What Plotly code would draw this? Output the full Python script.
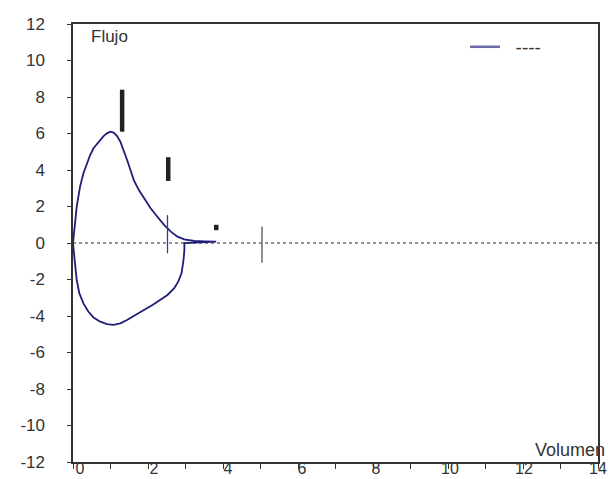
import plotly.graph_objects as go

# Flow-volume loop (Volumen, Flujo)
exp_vol = [0, 0.027, 0.054, 0.099, 0.143, 0.188, 0.278, 0.367, 0.457, 0.547, 0.681, 0.815, 0.905,
           0.995, 1.084, 1.174, 1.263, 1.353, 1.443, 1.532, 1.622, 1.756, 1.891, 2.07, 2.249, 2.428,
           2.608, 2.787, 2.966, 3.235, 3.504, 3.817]
exp_flow = [0, 0.71, 1.08, 1.99, 2.54, 3.09, 3.82, 4.37, 4.82, 5.19, 5.55, 5.86, 6.01,
            6.10, 6.05, 5.86, 5.55, 5.10, 4.55, 4.0, 3.45, 2.90, 2.45, 1.90, 1.44, 0.99,
            0.62, 0.35, 0.20, 0.11, 0.09, 0.07]
insp_vol = [2.97, 2.97, 2.948, 2.894, 2.805, 2.70, 2.52, 2.34, 2.12, 1.89, 1.67, 1.44, 1.26, 1.08,
            0.905, 0.727, 0.547, 0.412, 0.278, 0.17, 0.099, 0.054, 0.027, 0]
insp_flow = [0, -0.38, -0.93, -1.66, -2.12, -2.48, -2.85, -3.12, -3.40, -3.67, -3.95, -4.22, -4.40, -4.49,
             -4.44, -4.31, -4.08, -3.77, -3.31, -2.76, -2.03, -1.30, -0.57, 0]

# thick black markers: (x, y_low, y_high)
bar_x = [1.31, 2.54, 3.82]
bar_lo = [6.1, 3.4, 0.7]
bar_hi = [8.4, 4.7, 1.0]

# thin vertical markers
blue_mark_x = 2.52
blue_mark_y = [-0.56, 1.53]
gray_mark_x = 5.04
gray_mark_y = [-1.08, 0.9]

x_minor_ticks = list(range(0, 15))
x_ticks = [0, 2, 4, 6, 8, 10, 12, 14]
y_ticks = [-12, -10, -8, -6, -4, -2, 0, 2, 4, 6, 8, 10, 12]

navy = "#1e1e78"
NB = "\u00a0"

fig = go.Figure()

# zero dashed line
fig.add_trace(go.Scatter(x=[0, 14], y=[0, 0], mode="lines",
                         line=dict(color="#222", width=1, dash="dot"),
                         showlegend=False, hoverinfo="skip"))

fig.add_trace(go.Scatter(x=exp_vol + insp_vol, y=exp_flow + insp_flow, mode="lines",
                         line=dict(color=navy, width=1.8), showlegend=False))

for bx, lo, hi in zip(bar_x, bar_lo, bar_hi):
    fig.add_trace(go.Scatter(x=[bx, bx], y=[lo, hi], mode="lines",
                             line=dict(color="#222", width=4.5), showlegend=False))

fig.add_trace(go.Scatter(x=[blue_mark_x, blue_mark_x], y=blue_mark_y, mode="lines",
                         line=dict(color="#3a3a8a", width=1.3), showlegend=False))
fig.add_trace(go.Scatter(x=[gray_mark_x, gray_mark_x], y=gray_mark_y, mode="lines",
                         line=dict(color="#555", width=1.3), showlegend=False))

# legend entry
fig.add_trace(go.Scatter(x=[None], y=[None], mode="lines", name=NB * 2 + "----",
                         line=dict(color="#6b6ba8", width=2.5)))

# dummy trace to carry the label axis
fig.add_trace(go.Scatter(x=[None], y=[None], xaxis="x2", showlegend=False, hoverinfo="skip"))

fig.update_layout(
    width=608, height=479,
    margin=dict(l=73, r=10, t=24, b=17),
    paper_bgcolor="white", plot_bgcolor="white",
    font=dict(family="Liberation Sans, Arial", size=17, color="#333"),
    legend=dict(x=0.7467, y=0.991, xanchor="left", yanchor="top",
                bgcolor="rgba(0,0,0,0)", font=dict(size=19, color="#333")),
    xaxis=dict(range=[0, 14], tickvals=x_minor_ticks, showticklabels=False,
               showgrid=False, zeroline=False, showline=True, linecolor="#333",
               linewidth=1.5, mirror=True, ticks="outside", ticklen=5, tickcolor="#333",
               automargin=False),
    xaxis2=dict(range=[-0.189, 14.0], overlaying="x", anchor="y", side="bottom",
                tickvals=x_ticks, ticktext=[str(v) for v in x_ticks],
                showgrid=False, zeroline=False, showline=False, ticks="",
                ticklabelstandoff=-5,
                automargin=False, tickfont=dict(size=16, color="#333")),
    yaxis=dict(range=[-12, 12], tickvals=y_ticks,
               ticktext=[str(v) + NB * 4 for v in y_ticks],
               showgrid=False, zeroline=False, showline=True, linecolor="#333",
               linewidth=1.5, mirror=True, ticks="outside", ticklen=4, tickcolor="#333",
               automargin=False,
               tickfont=dict(size=17, color="#333")),
    annotations=[
        dict(text="Flujo", x=0.031, y=0.9715, xref="paper", yref="paper",
             xanchor="left", yanchor="middle", showarrow=False,
             font=dict(size=17, color="#333")),
        dict(text="Volumen", x=1.017, y=0.0274, xref="paper", yref="paper",
             xanchor="right", yanchor="middle", showarrow=False,
             font=dict(size=18, color="#333")),
    ],
)

fig.write_html("out.html",
               config={"displayModeBar": False},
               post_script="document.body.style.margin='0';"
                           "document.documentElement.style.overflow='hidden';"
                           "document.body.style.overflow='hidden';")
